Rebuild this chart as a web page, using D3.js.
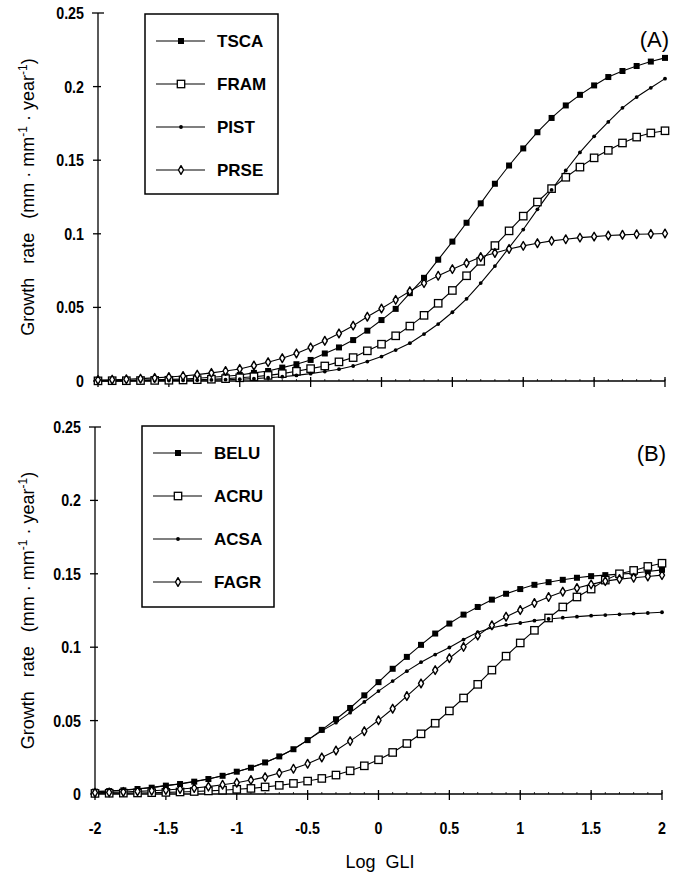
<!DOCTYPE html>
<html>
<head>
<meta charset="utf-8">
<script src="https://cdn.jsdelivr.net/npm/d3@7"></script>
<style>
  body { margin: 0; background: #fff; }
  text { fill: #000; }
  .tick-label { font-family: "Liberation Sans", Arial, sans-serif; font-weight: bold; font-size: 17px; }
  .legend-label { font-family: "Liberation Sans", Arial, sans-serif; font-weight: bold; font-size: 17px; }
  .axis-title { font-family: "Liberation Sans", Arial, sans-serif; font-size: 18px; }
</style>
</head>
<body>
<svg id="chart" width="681" height="875"></svg>
<script>
// Log GLI positions of the model points
var logGLI = [-2, -1.9, -1.8, -1.7, -1.6, -1.5, -1.4, -1.3, -1.2, -1.1, -1,
  -0.9, -0.8, -0.7, -0.6, -0.5, -0.4, -0.3, -0.2, -0.1,
  0, 0.1, 0.2, 0.3, 0.4, 0.5, 0.6, 0.7, 0.8, 0.9, 1,
  1.1, 1.2, 1.3, 1.4, 1.5, 1.6, 1.7, 1.8, 1.9, 2];

var xTicks = [-2, -1.5, -1, -0.5, 0, 0.5, 1, 1.5, 2];
var yTicks = [0, 0.05, 0.1, 0.15, 0.2, 0.25];

// panel A
var tsca = [0.0002, 0.0003, 0.0004, 0.0006, 0.0008, 0.0011, 0.0014, 0.0019, 0.0025, 0.0032, 0.0041,
  0.0055, 0.0068, 0.0091, 0.0114, 0.0143, 0.0187, 0.0228, 0.0278, 0.0342,
  0.0414, 0.049, 0.0597, 0.0701, 0.0824, 0.0947, 0.1075, 0.1207, 0.134, 0.1464, 0.158,
  0.169, 0.1787, 0.1872, 0.1944, 0.2008, 0.2065, 0.2106, 0.214, 0.217, 0.2195];
var fram = [0.0001, 0.0002, 0.0002, 0.0003, 0.0004, 0.0005, 0.0007, 0.0009, 0.0012, 0.0016, 0.0022,
  0.0029, 0.0038, 0.005, 0.0066, 0.0084, 0.0102, 0.013, 0.0159, 0.0205,
  0.025, 0.0307, 0.0373, 0.0446, 0.0528, 0.0615, 0.0715, 0.0813, 0.092, 0.102, 0.112,
  0.1216, 0.1307, 0.1384, 0.1453, 0.1516, 0.1567, 0.1617, 0.1657, 0.1685, 0.170];
var pist = [0.0001, 0.0001, 0.0001, 0.0002, 0.0002, 0.0003, 0.0004, 0.0005, 0.0007, 0.0009, 0.0012,
  0.0016, 0.0022, 0.0029, 0.0038, 0.005, 0.0064, 0.008, 0.0102, 0.0132,
  0.0166, 0.021, 0.0257, 0.0319, 0.0387, 0.0467, 0.0558, 0.0665, 0.0781, 0.0906, 0.1029,
  0.1166, 0.1298, 0.143, 0.1553, 0.1662, 0.176, 0.1856, 0.1929, 0.1992, 0.2054];
var prse = [0.0007, 0.0009, 0.0012, 0.0016, 0.0021, 0.0027, 0.0034, 0.0043, 0.0055, 0.0068, 0.0082,
  0.0105, 0.0128, 0.0155, 0.0187, 0.0228, 0.0273, 0.0323, 0.0376, 0.0437,
  0.0492, 0.0551, 0.061, 0.0665, 0.0715, 0.076, 0.0801, 0.0842, 0.087, 0.0897, 0.0918,
  0.0936, 0.0952, 0.0963, 0.0974, 0.0981, 0.0988, 0.0993, 0.0997, 0.0999, 0.1002];

// panel B
var belu = [0.0016, 0.002, 0.0025, 0.0034, 0.0043, 0.0057, 0.0068, 0.0084, 0.0102, 0.0124, 0.0152,
  0.0179, 0.0215, 0.0256, 0.0305, 0.0367, 0.0437, 0.0509, 0.0586, 0.0672,
  0.0762, 0.0853, 0.0934, 0.1016, 0.1093, 0.1161, 0.1222, 0.1274, 0.1324, 0.1364, 0.1396,
  0.1425, 0.1443, 0.1459, 0.1473, 0.1484, 0.1491, 0.1498, 0.1504, 0.1516, 0.1527];
var acru = [0.0004, 0.0005, 0.0006, 0.0007, 0.0009, 0.0011, 0.0014, 0.0017, 0.0021, 0.0026, 0.0032,
  0.0038, 0.0048, 0.0059, 0.0072, 0.0088, 0.0106, 0.0129, 0.0158, 0.0192,
  0.0233, 0.0283, 0.0344, 0.041, 0.0482, 0.0566, 0.0654, 0.0747, 0.0844, 0.0939, 0.1029,
  0.1115, 0.1199, 0.1274, 0.1342, 0.1396, 0.1457, 0.15, 0.1523, 0.155, 0.1572];
var acsa = [0.0016, 0.002, 0.0027, 0.0036, 0.0045, 0.0057, 0.007, 0.0086, 0.0102, 0.0124, 0.0152,
  0.0181, 0.0215, 0.0256, 0.0305, 0.0367, 0.043, 0.0486, 0.0554, 0.0627,
  0.0701, 0.0769, 0.0837, 0.0898, 0.095, 0.0998, 0.1052, 0.1102, 0.1133, 0.1152, 0.1165,
  0.1181, 0.1192, 0.1201, 0.1208, 0.1215, 0.1219, 0.1224, 0.1229, 0.1233, 0.1238];
var fagr = [0.0009, 0.0011, 0.0014, 0.0018, 0.0022, 0.0027, 0.0034, 0.0041, 0.005, 0.0063, 0.0077,
  0.0095, 0.0115, 0.0143, 0.0172, 0.0206, 0.0249, 0.0296, 0.036, 0.0428,
  0.0502, 0.0581, 0.0667, 0.0753, 0.0844, 0.0925, 0.1002, 0.1079, 0.1149, 0.1208, 0.1253,
  0.1301, 0.1342, 0.1378, 0.1403, 0.1428, 0.145, 0.1464, 0.1473, 0.1482, 0.1491];

var svg = d3.select("#chart");
svg.append("rect").attr("width", 681).attr("height", 875).attr("fill", "#fff");

// marker drawing, one per symbol type
function drawMarker(g, type, x, y) {
  if (type == "fsq") {
    g.append("rect").attr("x", x - 3).attr("y", y - 3).attr("width", 6).attr("height", 6).attr("fill", "#000");
  } else if (type == "osq") {
    g.append("rect").attr("x", x - 3.7).attr("y", y - 3.7).attr("width", 7.4).attr("height", 7.4)
      .attr("fill", "#fff").attr("stroke", "#000").attr("stroke-width", 1.3);
  } else if (type == "dot") {
    g.append("circle").attr("cx", x).attr("cy", y).attr("r", 1.9).attr("fill", "#000");
  } else {
    g.append("path").attr("d", d3.symbol().type(d3.symbolDiamond).size(22)())
      .attr("transform", "translate(" + x + "," + y + ")")
      .attr("fill", "#fff").attr("stroke", "#000").attr("stroke-width", 1.4)
      .attr("stroke-linejoin", "round");
  }
}

// narrow bold labels: squeeze horizontally around their anchor point
function narrowText(g, x, y, anchor, str) {
  return g.append("text").attr("class", "tick-label")
    .attr("text-anchor", anchor)
    .attr("transform", "translate(" + x + "," + y + ") scale(0.84,1)")
    .text(str);
}

function drawPanel(p) {
  var x = d3.scaleLinear().domain([-2, 2]).range([p.left, p.right]);
  var y = d3.scaleLinear().domain([0, 0.25]).range([p.bottom, p.top]);
  var g = svg.append("g");

  // x axis line with major ticks crossing, small minor ticks
  g.append("line").attr("x1", x(-2)).attr("x2", x(2)).attr("y1", y(0)).attr("y2", y(0))
    .attr("stroke", "#000").attr("stroke-width", 1.3);
  g.selectAll(".xminor").data(logGLI).enter().append("line")
    .attr("x1", function(d) { return x(d); }).attr("x2", function(d) { return x(d); })
    .attr("y1", y(0) - 2).attr("y2", y(0))
    .attr("stroke", "#000").attr("stroke-width", 0.8);
  g.selectAll(".xmajor").data(xTicks).enter().append("line")
    .attr("x1", function(d) { return x(d); }).attr("x2", function(d) { return x(d); })
    .attr("y1", y(0) - 4).attr("y2", y(0) + 6)
    .attr("stroke", "#000").attr("stroke-width", 1.3);
  if (p.xLabels) {
    xTicks.forEach(function(d) { narrowText(g, x(d), y(0) + 40, "middle", String(d)); });
  }

  // y axis
  g.append("line").attr("x1", x(-2)).attr("x2", x(-2)).attr("y1", y(0)).attr("y2", y(0.25))
    .attr("stroke", "#000").attr("stroke-width", 1.3);
  g.selectAll(".ytick").data(yTicks).enter().append("line")
    .attr("x1", function(d) { return d == 0.25 ? x(-2) - 6 : x(-2) - 5; })
    .attr("x2", function(d) { return d == 0.25 ? x(-2) + 6 : x(-2) + 3; })
    .attr("y1", function(d) { return y(d); }).attr("y2", function(d) { return y(d); })
    .attr("stroke", "#000").attr("stroke-width", 1.3);
  yTicks.forEach(function(d) { narrowText(g, x(-2) - 14, y(d) + 6, "end", String(d)); });

  var midY = (y(0) + y(0.25)) / 2;
  var title = g.append("text").attr("class", "axis-title")
    .attr("transform", "translate(" + 34 + "," + midY + ") rotate(-90)")
    .attr("text-anchor", "middle");
  title.append("tspan").attr("word-spacing", "9px").text("Growth rate (mm");
  title.append("tspan").text(" · mm");
  title.append("tspan").attr("dy", -7).attr("font-size", "12px").text("-1");
  title.append("tspan").attr("dy", 7).text(" · year");
  title.append("tspan").attr("dy", -7).attr("font-size", "12px").text("-1");
  title.append("tspan").attr("dy", 7).text(")");

  g.append("text").attr("x", p.right + 4).attr("y", y(0.25) + 34)
    .attr("text-anchor", "end")
    .attr("font-family", "Liberation Sans, Arial, sans-serif").attr("font-size", "22px")
    .text(p.tag);

  // series
  var line = d3.line().x(function(d, i) { return x(logGLI[i]); }).y(function(d) { return y(d); });
  p.series.forEach(function(s) {
    g.append("path").attr("d", line(s.values)).attr("fill", "none")
      .attr("stroke", "#000").attr("stroke-width", 1.1);
  });
  p.series.forEach(function(s) {
    var mg = g.append("g");
    s.values.forEach(function(v, i) { drawMarker(mg, s.marker, x(logGLI[i]), y(v)); });
  });

  // legend box
  var lg = g.append("g");
  lg.append("rect").attr("x", p.legend[0]).attr("y", p.legend[1])
    .attr("width", p.legend[2]).attr("height", p.legend[3])
    .attr("fill", "#fff").attr("stroke", "#000").attr("stroke-width", 1.5);
  p.series.forEach(function(s, i) {
    var ly = p.legend[1] + 27 + i * 43;
    var lx = p.legend[0] + 11;
    lg.append("line").attr("x1", lx).attr("x2", lx + 49).attr("y1", ly).attr("y2", ly)
      .attr("stroke", "#000").attr("stroke-width", 1.1);
    drawMarker(lg, s.marker, lx + 25, ly);
    lg.append("text").attr("class", "legend-label").attr("x", lx + 61).attr("y", ly + 6).text(s.name);
  });
}

drawPanel({
  left: 98, right: 665, top: 13, bottom: 381, tag: "(A)", xLabels: false,
  legend: [145, 14, 133, 180],
  series: [
    { name: "TSCA", values: tsca, marker: "fsq" },
    { name: "FRAM", values: fram, marker: "osq" },
    { name: "PIST", values: pist, marker: "dot" },
    { name: "PRSE", values: prse, marker: "odia" }
  ]
});

drawPanel({
  left: 95, right: 662, top: 427, bottom: 794, tag: "(B)", xLabels: true,
  legend: [142, 426, 132, 181],
  series: [
    { name: "BELU", values: belu, marker: "fsq" },
    { name: "ACRU", values: acru, marker: "osq" },
    { name: "ACSA", values: acsa, marker: "dot" },
    { name: "FAGR", values: fagr, marker: "odia" }
  ]
});

svg.append("text").attr("class", "axis-title").attr("x", 380).attr("y", 868)
  .attr("text-anchor", "middle").attr("word-spacing", "5px").text("Log GLI");
</script>
</body>
</html>
